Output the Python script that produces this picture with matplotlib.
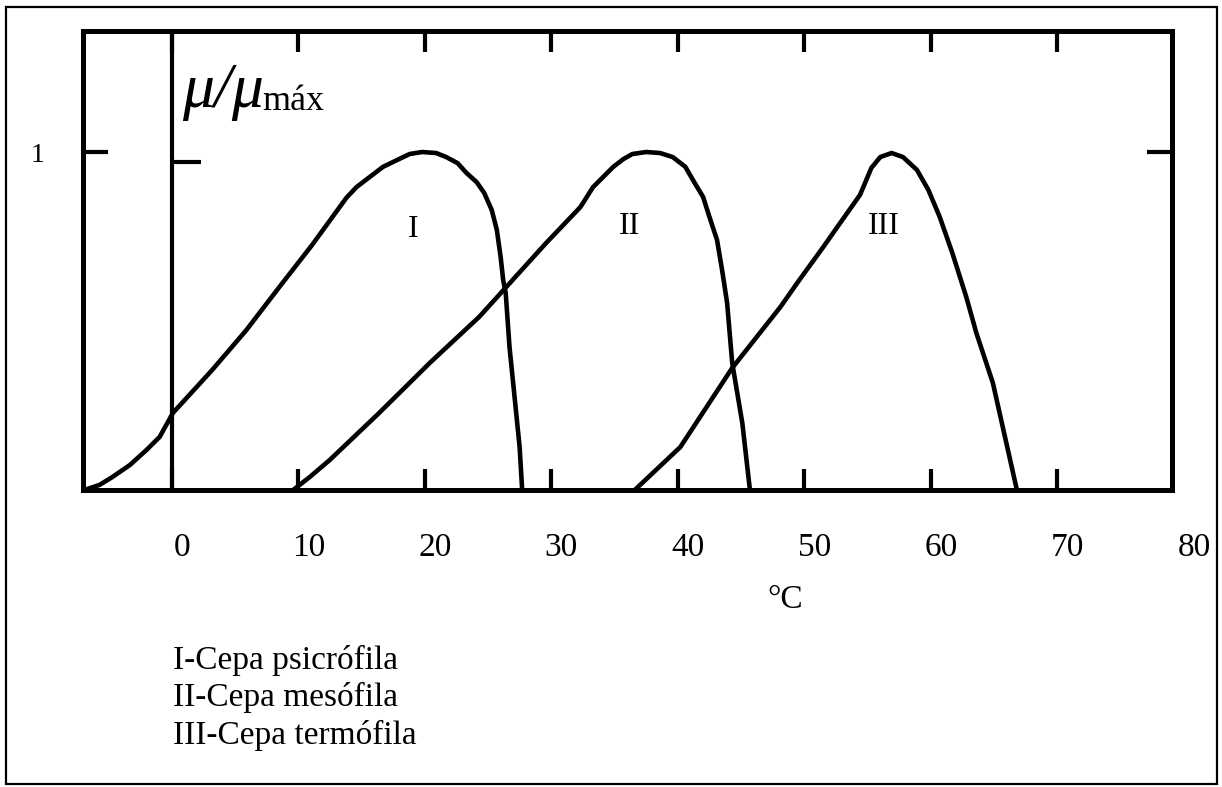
"""
Velocidad de crecimiento relativa vs temperatura para tres cepas.
"""

import matplotlib.pyplot as plt
from matplotlib.patches import Rectangle

plt.rcParams['font.family'] = ['Liberation Serif', 'DejaVu Serif']

# I - cepa psicrófila
t_psicro = [-6.9, -5.7, -4.7, -3.3, -2.0, -0.95, 0.1, 3.2, 5.9, 8.5, 11.1, 13.8,
            14.6, 15.65, 16.7, 17.8, 18.8, 19.8, 20.9, 21.7, 22.6, 23.3, 24.1, 24.7,
            25.3, 25.7, 26.0, 26.2, 26.4, 26.7, 27.1, 27.5, 27.7]
mu_psicro = [0.0, 0.015, 0.038, 0.074, 0.118, 0.157, 0.228, 0.355, 0.473, 0.600, 0.725, 0.864,
             0.896, 0.926, 0.956, 0.976, 0.994, 1.0, 0.997, 0.985, 0.967, 0.938, 0.911, 0.879,
             0.828, 0.769, 0.689, 0.621, 0.583, 0.423, 0.275, 0.127, 0.0]

# II - cepa mesófila
t_meso = [9.6, 10.9, 12.5, 16.4, 20.4, 24.3, 29.6, 32.3, 33.3, 34.9, 35.7, 36.4, 37.5,
          38.6, 39.6, 40.6, 41.2, 42.0, 42.5, 43.1, 43.5, 43.9, 44.3, 45.1, 45.7]
mu_meso = [0.0, 0.038, 0.089, 0.228, 0.376, 0.512, 0.731, 0.837, 0.896, 0.956, 0.979, 0.994, 1.0,
           0.997, 0.985, 0.956, 0.917, 0.867, 0.808, 0.740, 0.651, 0.553, 0.376, 0.198, 0.0]

# III - cepa termófila
t_termo = [36.6, 40.2, 44.3, 48.1, 49.6, 51.5, 53.0, 54.4, 55.3, 56.0, 56.9, 57.8, 58.9,
           59.8, 60.7, 61.7, 62.8, 63.6, 64.9, 66.8]
mu_termo = [0.0, 0.127, 0.361, 0.541, 0.621, 0.719, 0.799, 0.873, 0.953, 0.985, 0.997, 0.985,
            0.947, 0.888, 0.808, 0.701, 0.571, 0.464, 0.317, 0.0]

curvas = [(t_psicro, mu_psicro), (t_meso, mu_meso), (t_termo, mu_termo)]
romanos = ['I', 'II', 'III']
pos_romanos = [(19.1, 0.77), (36.2, 0.78), (56.3, 0.78)]

xticks = [0, 10, 20, 30, 40, 50, 60, 70]
xlabels = ['0', '10', '20', '30', '40', '50', '60', '70', '80']
leyenda = ['I-Cepa psicrófila', 'II-Cepa mesófila', 'III-Cepa termófila']

fig = plt.figure(figsize=(12.22, 7.87), dpi=100)
ax = fig.add_axes([0.068, 0.3774, 0.891, 0.5832])

for t, mu in curvas:
    ax.plot(t, mu, color='black', lw=3.3, solid_joinstyle='round', solid_capstyle='round')

for txt, (x, y) in zip(romanos, pos_romanos):
    ax.text(x, y, txt, fontsize=23, ha='center', va='center')

# eje vertical en 0 °C con su marca en 1
ax.axvline(0, color='black', lw=3.0)
ax.hlines(0.97, 0, 2.3, color='black', lw=3.0)

ax.set_xlim(-7.0, 79.05)
ax.set_ylim(0, 1.358)

for s in ax.spines.values():
    s.set_linewidth(3.6)

ax.set_xticks(xticks)
ax.set_xticklabels([])
ax.set_yticks([1])
ax.set_yticklabels(['1'], fontsize=20)
ax.tick_params(axis='x', direction='in', length=15, width=3, top=True, bottom=True)
ax.tick_params(axis='y', direction='in', length=18, width=3, left=True, right=True, pad=28)

for v, lab in zip(xticks + [80], xlabels):
    ax.text(v + 0.8, -0.17, lab, fontsize=24, ha='center', va='center', clip_on=False)

ax.text(48.5, -0.325, '°C', fontsize=24, ha='center', va='center')

# etiqueta del eje: mu / mu_max
t_mu = ax.text(0.8, 1.262, 'μ/μ', fontsize=46, style='italic', ha='left', va='top')
ax.annotate('máx', xy=(0.98, 0.06), xycoords=t_mu, fontsize=26, ha='left', va='bottom')

for i, linea in enumerate(leyenda):
    fig.text(173 / 1222, 1 - (660 + 37.5 * i) / 787, linea, fontsize=24, ha='left', va='center')

# marco exterior
fig.add_artist(Rectangle((6 / 1222, 3 / 787), 1211 / 1222, 777 / 787, transform=fig.transFigure,
                         fill=False, lw=1.6, edgecolor='black'))

fig.savefig('out.png', dpi=100, facecolor='white')
